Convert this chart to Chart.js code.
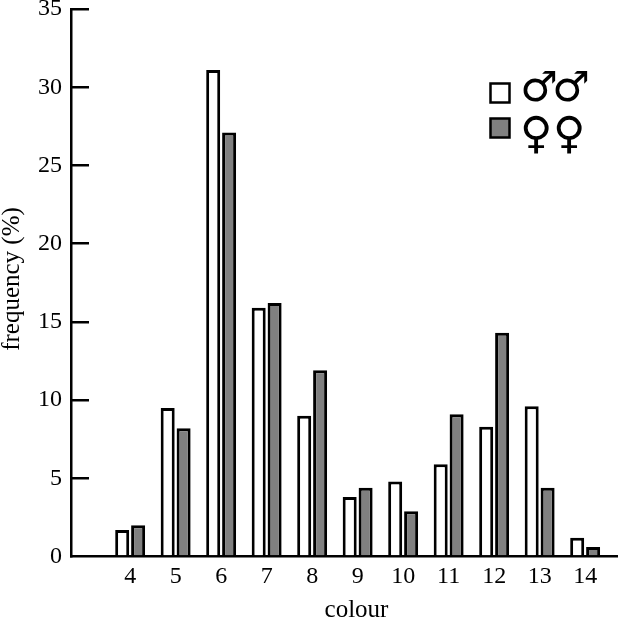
<!DOCTYPE html>
<html>
<head>
<meta charset="utf-8">
<style>
html, body { margin: 0; padding: 0; background: #fff; overflow: hidden; }
canvas { display: block; }
</style>
<script src="https://cdn.jsdelivr.net/npm/chart.js@4"></script>
</head>
<body>
<canvas id="chart" width="618" height="617"></canvas>
<script>
const categories = [4, 5, 6, 7, 8, 9, 10, 11, 12, 13, 14];
const maleValues = [1.7, 9.5, 31.1, 15.9, 9.0, 3.8, 4.8, 5.9, 8.3, 9.6, 1.2];
const femaleValues = [2.0, 8.2, 27.1, 16.2, 11.9, 4.4, 2.9, 9.1, 14.3, 4.4, 0.6];
const yTicks = [0, 5, 10, 15, 20, 25, 30, 35];

const serif = '"Liberation Serif", serif';

// legend and axis titles sit off-centre in the original, so they are placed by hand
const annotations = {
    id: 'annotations',
    afterDraw(chart) {
        const ctx = chart.ctx;
        ctx.save();
        ctx.lineWidth = 2.5;
        ctx.strokeStyle = '#000';
        ctx.fillStyle = '#fff';
        ctx.fillRect(490.5, 83.5, 19, 19);
        ctx.strokeRect(490.5, 83.5, 19, 19);
        ctx.fillStyle = '#808080';
        ctx.fillRect(490.5, 118.5, 19, 19);
        ctx.strokeRect(490.5, 118.5, 19, 19);

        ctx.fillStyle = '#000';
        ctx.textAlign = 'center';
        ctx.textBaseline = 'alphabetic';
        ctx.font = '42px "DejaVu Sans"';
        ctx.fillText('♂', 539, 101);
        ctx.fillText('♂', 571, 101);
        ctx.font = '44px "DejaVu Sans"';
        ctx.fillText('♀', 536, 147.5);
        ctx.fillText('♀', 569, 147.5);

        ctx.font = '25px ' + serif;
        ctx.textBaseline = 'middle';
        ctx.fillText('colour', 356.5, 610);
        ctx.translate(12, 279);
        ctx.rotate(-Math.PI / 2);
        ctx.fillText('frequency (%)', 0, 0);
        ctx.restore();
    }
};

new Chart(document.getElementById('chart'), {
    type: 'bar',
    data: {
        datasets: [{
            label: 'male',
            data: categories.map((c, i) => ({ x: c, y: maleValues[i] })),
            backgroundColor: '#ffffff',
            borderColor: '#000000',
            borderWidth: 3,
            borderSkipped: 'bottom'
        }, {
            label: 'female',
            data: categories.map((c, i) => ({ x: c, y: femaleValues[i] })),
            backgroundColor: '#808080',
            borderColor: '#000000',
            borderWidth: 3,
            borderSkipped: 'bottom'
        }]
    },
    options: {
        responsive: false,
        animation: false,
        categoryPercentage: 0.7,
        barPercentage: 0.88,
        layout: { padding: { top: 9, right: 1, left: 0, bottom: 0 } },
        plugins: { legend: { display: false }, tooltip: { enabled: false } },
        scales: {
            x: {
                type: 'linear',
                offset: false,
                min: 2.7,
                max: 14.7,
                afterBuildTicks: scale => { scale.ticks = categories.map(v => ({ value: v })); },
                afterFit: scale => { scale.height = 60.5; scale.paddingLeft = 0; scale.paddingRight = 0; },
                grid: { drawOnChartArea: false, drawTicks: false },
                border: { color: '#000', width: 2.5 },
                ticks: {
                    color: '#000',
                    padding: 6,
                    autoSkip: false,
                    maxRotation: 0,
                    font: { family: serif, size: 24 },
                    callback: v => String(v)
                }
            },
            y: {
                min: 0,
                max: 35,
                afterBuildTicks: scale => { scale.ticks = yTicks.map(v => ({ value: v })); },
                afterFit: scale => { scale.width = 71; scale.paddingTop = 0; scale.paddingBottom = 0; },
                grid: {
                    drawOnChartArea: false,
                    drawTicks: true,
                    tickLength: -18,
                    color: c => (c.tick && c.tick.value === 0 ? 'transparent' : '#000'),
                    lineWidth: 2.5
                },
                border: { color: '#000', width: 2.5 },
                ticks: {
                    color: '#000',
                    padding: 27,
                    font: { family: serif, size: 24 }
                }
            }
        }
    },
    plugins: [annotations]
});
</script>
</body>
</html>
